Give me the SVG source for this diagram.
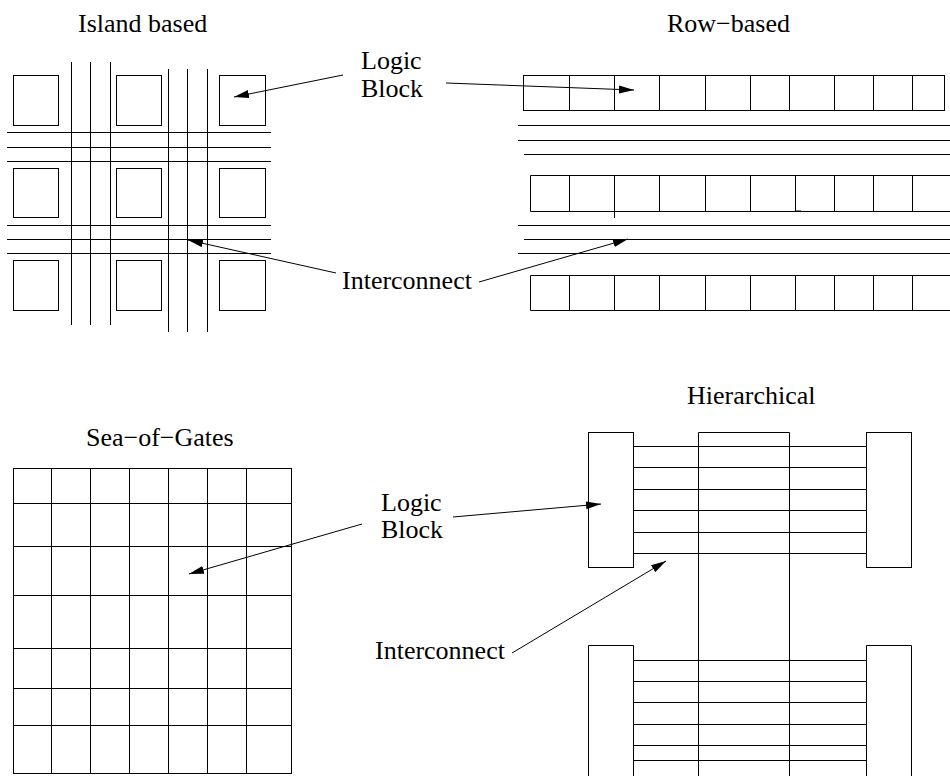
<svg xmlns="http://www.w3.org/2000/svg" width="950" height="776" viewBox="0 0 950 776">
<defs>
<marker id="ah" markerUnits="userSpaceOnUse" markerWidth="16" markerHeight="10" refX="15" refY="4" orient="auto">
<path d="M0,0 L15,4 L0,8 z" fill="#000"/>
</marker>
<style>
.s{fill:none;stroke:#000;stroke-width:1}
.t{font-family:"Liberation Serif","Times New Roman",serif;font-size:26px;fill:#000}
.c{fill:none;stroke:#000;stroke-width:1;marker-end:url(#ah)}
</style>
</defs>
<rect width="950" height="776" fill="#fff"/>

<g id="island">
<text class="t" x="78" y="32">Island based</text>
<g class="s">
<rect x="13.5" y="75.5" width="45" height="50"/>
<rect x="116.5" y="75.5" width="45" height="50"/>
<rect x="219.5" y="75.5" width="46" height="50"/>
<rect x="13.5" y="168.5" width="45" height="49"/>
<rect x="116.5" y="168.5" width="45" height="49"/>
<rect x="219.5" y="168.5" width="46" height="49"/>
<rect x="13.5" y="260.5" width="45" height="50"/>
<rect x="116.5" y="260.5" width="45" height="50"/>
<rect x="219.5" y="260.5" width="46" height="50"/>
<path d="M71.5,62 V325 M90.5,62 V325 M110.5,62 V325 M168.5,69 V332 M187.5,69 V332 M207.5,69 V332"/>
<path d="M7,132.5 H271 M7,147.5 H271 M7,161.5 H271 M7,225.5 H271 M7,239.5 H271 M7,253.5 H271"/>
</g>
</g>

<g id="row">
<text class="t" x="667" y="32">Row−based</text>
<g class="s">
<rect x="523.5" y="75.5" width="421" height="35"/>
<path d="M569.5,75 V111 M614.5,75 V111 M659.5,75 V111 M705.5,75 V111 M750.5,75 V111 M789.5,75 V111 M834.5,75 V111 M873.5,75 V111 M912.5,75 V111"/>
<path d="M518,125.5 H950 M518,140.5 H950 M524,154.5 H950"/>
<path d="M951,175.5 H530.5 V211.5 H951"/>
<path d="M569.5,175 V211 M614.5,175 V218 M659.5,175 V211 M705.5,175 V211 M750.5,175 V211 M795.5,175 V211 H801 M834.5,175 V211 M873.5,175 V211 M912.5,175 V211"/>
<path d="M518,225.5 H950 M524,239.5 H950 M518,253.5 H950"/>
<path d="M951,275.5 H530.5 V310.5 H951"/>
<path d="M569.5,275 V311 M614.5,275 V311 M659.5,275 V311 M705.5,275 V311 M750.5,275 V311 M795.5,275 V311 M834.5,275 V311 M873.5,275 V311 M912.5,275 V311"/>
</g>
</g>

<g id="sea">
<text class="t" x="86" y="446">Sea−of−Gates</text>
<g class="s">
<rect x="13.5" y="468.5" width="278" height="305"/>
<path d="M51.5,468 V774 M90.5,468 V774 M129.5,468 V774 M168.5,468 V774 M207.5,468 V774 M246.5,468 V774"/>
<path d="M13,503.5 H291 M13,546.5 H291 M13,595.5 H291 M13,648.5 H291 M13,688.5 H291 M13,725.5 H291"/>
</g>
</g>

<g id="hier">
<text class="t" x="687" y="404">Hierarchical</text>
<g class="s">
<rect x="588.5" y="432.5" width="45" height="135"/>
<rect x="866.5" y="432.5" width="45" height="135"/>
<path d="M698.5,777 V432.5 H789.5 V777"/>
<path d="M634,446.5 H866 M634,467.5 H866 M634,489.5 H866 M634,510.5 H866 M634,532.5 H866 M634,553.5 H866"/>
<path d="M588.5,777 V645.5 H633.5 V777"/>
<path d="M866.5,777 V645.5 H911.5 V777"/>
<path d="M634,660.5 H866 M634,681.5 H866 M634,702.5 H866 M634,724.5 H866 M634,745.5 H866 M634,760.5 H866"/>
</g>
</g>

<g id="labels">
<text class="t" x="361" y="69">Logic</text>
<text class="t" x="361" y="97">Block</text>
<text class="t" x="342" y="289">Interconnect</text>
<text class="t" x="381" y="511">Logic</text>
<text class="t" x="381" y="538">Block</text>
<text class="t" x="375" y="659">Interconnect</text>
</g>

<g id="connectors">
<line class="c" x1="343" y1="75" x2="234" y2="97"/>
<line class="c" x1="446" y1="83" x2="634" y2="90"/>
<line class="c" x1="336" y1="273" x2="188" y2="240"/>
<line class="c" x1="479" y1="282" x2="628" y2="239"/>
<line class="c" x1="362" y1="524" x2="189" y2="574"/>
<line class="c" x1="453" y1="517" x2="601" y2="504"/>
<line class="c" x1="512" y1="653" x2="666" y2="561"/>
</g>
</svg>
